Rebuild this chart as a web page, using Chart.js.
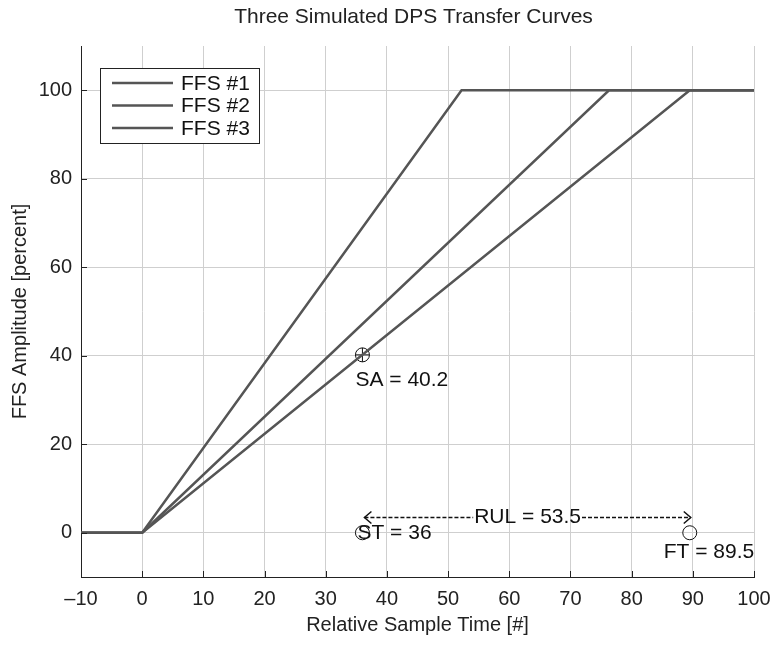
<!DOCTYPE html>
<html>
<head>
<meta charset="utf-8">
<script src="https://cdn.jsdelivr.net/npm/chart.js@4/dist/chart.umd.min.js"></script>
<style>
  html, body { margin: 0; padding: 0; background: #fff; }
  #wrap { width: 775px; height: 647px; }
</style>
</head>
<body>
<div id="wrap"><canvas id="c" width="775" height="647"></canvas></div>
<script>
// ---- data ----
const seriesNames = ['FFS #1', 'FFS #2', 'FFS #3'];
const ffs1X = [-10, 0, 52.2, 100];
const ffs1Y = [0, 0, 100, 100];
const ffs2X = [-10, 0, 76.3, 100];
const ffs2Y = [0, 0, 100, 100];
const ffs3X = [-10, 0, 89.5, 100];
const ffs3Y = [0, 0, 100, 100];
const xTicks = [-10, 0, 10, 20, 30, 40, 50, 60, 70, 80, 90, 100];
const yTicks = [0, 20, 40, 60, 80, 100];
const startTime = 36;      // ST
const startAmp = 40.2;     // SA
const failTime = 89.5;     // FT
const rul = 53.5;          // RUL
const rulLevel = 3.5;      // height of RUL arrow
const titleText = 'Three Simulated DPS Transfer Curves';
const xTitle = 'Relative Sample Time [#]';
const yTitle = 'FFS Amplitude [percent]';

const FONT = "'Liberation Sans', Arial, sans-serif";
const lineColor = '#555555';
const toPts = (xs, ys) => xs.map((x, i) => ({x: x, y: ys[i]}));

const overlay = {
  id: 'overlay',
  afterDraw(chart) {
    const ctx = chart.ctx;
    const xs = chart.scales.x, ys = chart.scales.y;
    const ca = chart.chartArea;
    ctx.save();
    // inward tick marks
    ctx.strokeStyle = '#222';
    ctx.lineWidth = 1;
    ctx.beginPath();
    xTicks.forEach(v => {
      const px = Math.round(xs.getPixelForValue(v)) + 0.5;
      ctx.moveTo(px, ca.bottom); ctx.lineTo(px, ca.bottom - 6);
    });
    yTicks.forEach(v => {
      const py = Math.round(ys.getPixelForValue(v)) + 0.5;
      ctx.moveTo(ca.left, py); ctx.lineTo(ca.left + 6, py);
    });
    ctx.stroke();

    // title
    ctx.fillStyle = '#222';
    ctx.font = '21px ' + FONT;
    ctx.textAlign = 'center';
    ctx.textBaseline = 'middle';
    ctx.fillText(titleText, (ca.left + ca.right) / 2 - 4, 17);
    // axis titles
    ctx.font = '20px ' + FONT;
    ctx.fillText(xTitle, (ca.left + ca.right) / 2, 625);
    ctx.save();
    ctx.translate(20, (ca.top + ca.bottom) / 2);
    ctx.rotate(-Math.PI / 2);
    ctx.fillText(yTitle, 0, 0);
    ctx.restore();

    // annotations
    ctx.font = '21px ' + FONT;
    ctx.textAlign = 'left';
    ctx.textBaseline = 'middle';
    ctx.fillStyle = '#111';
    const sax = xs.getPixelForValue(startTime), say = ys.getPixelForValue(startAmp);
    ctx.fillText('SA = ' + startAmp, sax - 7, say + 25);
    const y0 = ys.getPixelForValue(0);
    ctx.fillText('ST = ' + startTime, sax - 5, y0);
    const fx = xs.getPixelForValue(failTime);
    ctx.fillText('FT = ' + failTime, fx - 26, y0 + 19);

    // RUL arrow
    const ay = Math.round(ys.getPixelForValue(rulLevel)) + 0.5;
    const ax1 = xs.getPixelForValue(startTime) + 2;
    const ax2 = xs.getPixelForValue(failTime) + 1;
    const label = 'RUL = ' + rul;
    const tw = ctx.measureText(label).width;
    const cx = (ax1 + ax2) / 2;
    ctx.strokeStyle = '#111';
    ctx.lineWidth = 1.5;
    ctx.setLineDash([4, 2]);
    ctx.beginPath();
    ctx.moveTo(ax1, ay); ctx.lineTo(cx - tw / 2 - 1, ay);
    ctx.moveTo(cx + tw / 2 + 1, ay); ctx.lineTo(ax2, ay);
    ctx.stroke();
    ctx.setLineDash([]);
    ctx.beginPath();
    ctx.moveTo(ax1 + 7, ay - 6); ctx.lineTo(ax1, ay); ctx.lineTo(ax1 + 7, ay + 6);
    ctx.moveTo(ax2 - 7, ay - 6); ctx.lineTo(ax2, ay); ctx.lineTo(ax2 - 7, ay + 6);
    ctx.stroke();
    ctx.textAlign = 'center';
    ctx.fillText(label, cx, ay);

    // legend box
    const lx = 100, ly = 68, lw = 159, lh = 75;
    ctx.fillStyle = '#fff';
    ctx.fillRect(lx, ly, lw, lh);
    ctx.strokeStyle = '#222';
    ctx.lineWidth = 1;
    ctx.strokeRect(lx + 0.5, ly + 0.5, lw, lh);
    ctx.textAlign = 'left';
    ctx.font = '21px ' + FONT;
    seriesNames.forEach((n, i) => {
      const yy = ly + 15 + i * 22.5;
      ctx.strokeStyle = lineColor;
      ctx.lineWidth = 2.5;
      ctx.beginPath();
      ctx.moveTo(lx + 12, yy); ctx.lineTo(lx + 73, yy);
      ctx.stroke();
      ctx.fillStyle = '#111';
      ctx.fillText(n, lx + 81, yy + 1);
    });
    ctx.restore();
  }
};

new Chart(document.getElementById('c'), {
  type: 'scatter',
  data: {
    datasets: [
      { label: seriesNames[0], data: toPts(ffs1X, ffs1Y), showLine: true, borderColor: lineColor, borderWidth: 2.5, pointRadius: 0, tension: 0 },
      { label: seriesNames[1], data: toPts(ffs2X, ffs2Y), showLine: true, borderColor: lineColor, borderWidth: 2.5, pointRadius: 0, tension: 0 },
      { label: seriesNames[2], data: toPts(ffs3X, ffs3Y), showLine: true, borderColor: lineColor, borderWidth: 2.5, pointRadius: 0, tension: 0 },
      { label: 'SA', data: [{x: startTime, y: startAmp}], pointStyle: 'circle', pointRadius: 7, borderColor: '#111', backgroundColor: 'rgba(0,0,0,0)', borderWidth: 1 },
      { label: 'SAx', data: [{x: startTime, y: startAmp}], pointStyle: 'cross', pointRadius: 7, borderColor: '#111', borderWidth: 1 },
      { label: 'ST', data: [{x: startTime, y: 0}], pointStyle: 'circle', pointRadius: 7, borderColor: '#111', backgroundColor: 'rgba(0,0,0,0)', borderWidth: 1 },
      { label: 'FT', data: [{x: failTime, y: 0}], pointStyle: 'circle', pointRadius: 7, borderColor: '#111', backgroundColor: 'rgba(0,0,0,0)', borderWidth: 1 }
    ]
  },
  options: {
    responsive: false,
    animation: false,
    events: [],
    layout: { padding: { top: 46, right: 21, left: 0, bottom: 0 } },
    plugins: { legend: { display: false }, tooltip: { enabled: false }, title: { display: false } },
    scales: {
      x: {
        type: 'linear', min: -10, max: 100,
        afterBuildTicks: s => { s.ticks = xTicks.map(v => ({value: v})); },
        afterFit: s => { s.height = 70; s.paddingLeft = 0; s.paddingRight = 0; },
        grid: { color: '#cfcfcf', lineWidth: 1, drawTicks: false },
        border: { display: true, color: '#222', width: 1 },
        ticks: { padding: 10, color: '#222', font: { family: FONT, size: 20 }, maxRotation: 0, autoSkip: false,
                 callback: v => (v < 0 ? '\u2013' + Math.abs(v) : '' + v) }
      },
      y: {
        type: 'linear', min: -10, max: 110,
        afterBuildTicks: s => { s.ticks = yTicks.map(v => ({value: v})); },
        afterFit: s => { s.width = 81; s.paddingTop = 0; s.paddingBottom = 0; },
        grid: { color: '#cfcfcf', lineWidth: 1, drawTicks: false },
        border: { display: true, color: '#222', width: 1 },
        ticks: { padding: 9, color: '#222', font: { family: FONT, size: 20 } }
      }
    }
  },
  plugins: [overlay]
});
</script>
</body>
</html>
